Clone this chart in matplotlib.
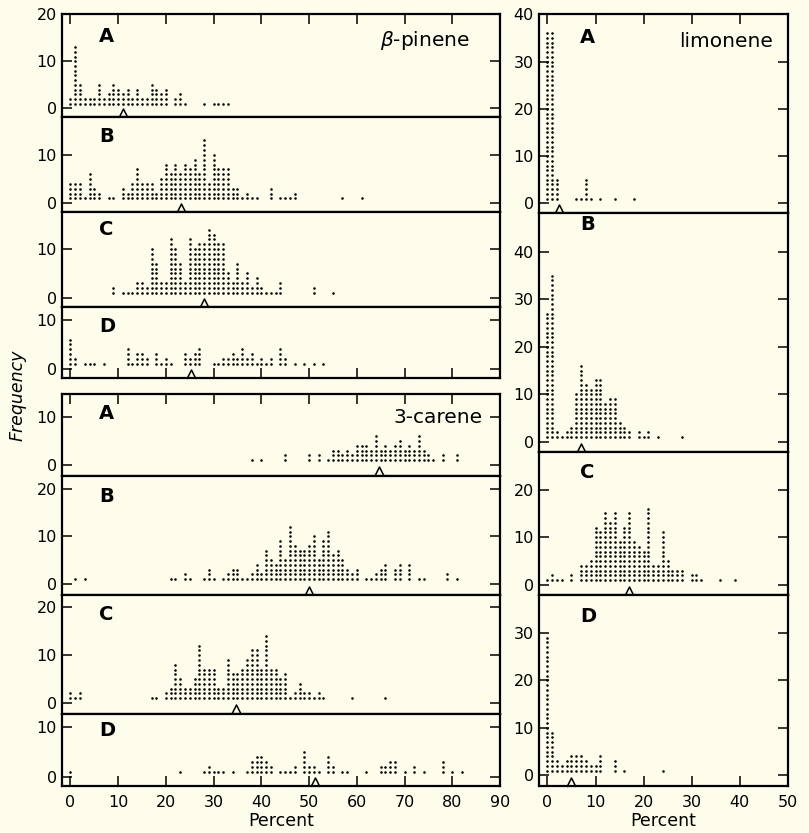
import numpy as np
import matplotlib
matplotlib.use("Agg")
import matplotlib.pyplot as plt
from matplotlib.path import Path

# ---------- DATA (percent value -> number of samples) ----------
# beta-pinene
bp_A_pct = [0, 1, 2, 3, 4, 5, 6, 7, 8, 9, 10, 11, 12, 13, 14, 15, 16, 17, 18, 19, 20, 22, 23, 24, 28, 30, 31, 32, 33]
bp_A_n = [2, 13, 5, 2, 2, 2, 5, 2, 3, 5, 4, 3, 4, 2, 4, 2, 2, 5, 4, 3, 4, 2, 3, 1, 1, 1, 1, 1, 1]
bp_B_pct = [0, 1, 2, 3, 4, 5, 6, 8, 9, 11, 12, 13, 14, 15, 16, 17, 18, 19, 20, 21, 22, 23, 24, 25, 26, 27, 28, 29,
            30, 31, 32, 33, 34, 35, 36, 37, 38, 39, 42, 44, 45, 46, 47, 57, 61]
bp_B_n = [4, 4, 4, 1, 6, 3, 2, 1, 1, 3, 2, 4, 7, 4, 4, 4, 2, 5, 8, 6, 8, 6, 8, 7, 9, 6, 13, 4,
          10, 7, 7, 7, 3, 3, 1, 2, 1, 1, 3, 1, 1, 1, 2, 1, 1]
bp_C_pct = [9, 11, 12, 13, 14, 15, 16, 17, 18, 19, 20, 21, 22, 23, 24, 25, 26, 27, 28, 29, 30, 31, 32, 33, 34, 35,
            36, 37, 38, 39, 40, 41, 42, 43, 44, 51, 55]
bp_C_n = [2, 1, 1, 1, 3, 3, 2, 10, 7, 3, 3, 12, 10, 7, 3, 12, 10, 11, 11, 14, 13, 11, 11, 5, 3, 7,
          3, 5, 2, 4, 2, 1, 1, 1, 3, 2, 1]
bp_D_pct = [0, 1, 3, 4, 5, 7, 12, 13, 14, 15, 16, 18, 19, 20, 21, 24, 25, 26, 27, 30, 31, 32, 33, 34, 35, 36, 37,
            38, 39, 40, 41, 42, 44, 45, 47, 49, 51, 53]
bp_D_n = [6, 2, 1, 1, 1, 1, 4, 1, 3, 3, 2, 3, 1, 2, 1, 3, 2, 3, 4, 1, 1, 2, 2, 3, 2, 4, 2,
          3, 1, 2, 1, 2, 4, 2, 1, 1, 1, 1]
bp_means = [11.1, 23.1, 28.0, 25.2]

# 3-carene
ca_A_pct = [38, 40, 45, 50, 52, 54, 55, 56, 57, 58, 59, 60, 61, 62, 63, 64, 65, 66, 67, 68, 69, 70, 71, 72, 73, 74,
            75, 76, 78, 81]
ca_A_n = [1, 1, 2, 2, 2, 1, 3, 3, 2, 3, 2, 4, 4, 4, 3, 6, 3, 4, 3, 4, 5, 3, 4, 3, 6, 3, 2, 1, 2, 2]
ca_B_pct = [1, 3, 21, 22, 24, 25, 28, 29, 30, 32, 33, 34, 35, 36, 37, 38, 39, 40, 41, 42, 43, 44, 45, 46, 47, 48,
            49, 50, 51, 52, 53, 54, 55, 56, 57, 58, 59, 60, 62, 63, 64, 65, 66, 68, 69, 71, 73, 74, 79, 81]
ca_B_n = [1, 1, 1, 1, 2, 1, 1, 3, 1, 1, 2, 3, 3, 1, 1, 2, 4, 2, 7, 5, 4, 9, 5, 12, 8, 7,
          7, 8, 10, 5, 9, 11, 6, 7, 5, 3, 2, 3, 1, 1, 2, 3, 4, 3, 4, 4, 1, 1, 2, 1]
ca_C_pct = [0, 1, 2, 17, 18, 20, 21, 22, 23, 24, 25, 26, 27, 28, 29, 30, 31, 32, 33, 34, 35, 36, 37, 38, 39, 40,
            41, 42, 43, 44, 45, 46, 47, 48, 49, 50, 51, 52, 53, 59, 66]
ca_C_n = [2, 1, 2, 1, 1, 2, 3, 8, 5, 3, 3, 5, 12, 7, 7, 7, 3, 3, 9, 6, 6, 7, 9, 11, 11, 7,
          14, 7, 7, 5, 6, 1, 2, 4, 2, 2, 1, 2, 1, 1, 1]
ca_D_pct = [0, 23, 28, 29, 30, 31, 32, 34, 37, 38, 39, 40, 41, 42, 44, 45, 46, 47, 49, 50, 51, 52, 54, 55, 57, 58,
            62, 65, 66, 67, 68, 70, 72, 74, 78, 80, 82]
ca_D_n = [1, 1, 1, 2, 1, 1, 1, 1, 1, 3, 4, 4, 3, 2, 1, 1, 1, 2, 5, 2, 2, 1, 4, 2, 1, 1,
          1, 2, 2, 3, 3, 1, 2, 1, 3, 1, 1]
ca_means = [64.6, 49.9, 34.7, 51.2]

# limonene
li_A_pct = [0, 1, 2, 6, 7, 8, 9, 11, 14, 18]
li_A_n = [36, 36, 5, 1, 1, 5, 1, 1, 1, 1]
li_B_pct = [0, 1, 2, 3, 4, 5, 6, 7, 8, 9, 10, 11, 12, 13, 14, 15, 16, 17, 19, 20, 21, 23, 28]
li_B_n = [27, 35, 2, 1, 2, 3, 10, 16, 12, 11, 13, 13, 8, 9, 9, 4, 3, 2, 2, 1, 2, 1, 1]
li_C_pct = [0, 1, 2, 3, 5, 7, 8, 9, 10, 11, 12, 13, 14, 15, 16, 17, 18, 19, 20, 21, 22, 23, 24, 25, 26, 27, 28,
            30, 31, 32, 36, 39]
li_C_n = [1, 2, 1, 1, 2, 4, 4, 5, 12, 11, 15, 13, 15, 9, 12, 15, 9, 8, 7, 16, 4, 4, 11, 5, 3, 3, 3,
          2, 2, 1, 1, 1]
li_D_pct = [0, 1, 2, 3, 4, 5, 6, 7, 8, 9, 10, 11, 14, 16, 24]
li_D_n = [29, 9, 3, 2, 3, 4, 4, 4, 3, 2, 2, 4, 3, 1, 1]
li_means = [2.4, 7.0, 16.9, 4.9]

panel_letters = ["A", "B", "C", "D"]

# ---------- LAYOUT (pixels in an 809 x 833 canvas) ----------
W, H = 809, 833
BG = "#fefcea"
left_x = (62.3, 500.0)
right_x = (539.3, 787.7)
bp_edges = [14, 117.3, 212.3, 307, 378.3]
ca_edges = [394.3, 475.7, 595, 713.5, 786.2]
li_edges = [14, 213.3, 452.3, 595, 786.2]
bp_ylims = [(-1.9, 20.05), (-1.86, 17.8), (-1.93, 17.6), (-1.95, 12.7)]
ca_ylims = [(-2.2, 14.6), (-2.3, 22.7), (-2.2, 22.6), (-1.9, 12.8)]
li_ylims = [(-2.1, 40.05), (-2.2, 48.1), (-2.1, 27.8), (-2.3, 38)]
bp_yticks = [[0, 10, 20], [0, 10], [0, 10], [0, 10]]
ca_yticks = [[0, 10], [0, 10, 20], [0, 10, 20], [0, 10]]
li_yticks = [[0, 10, 20, 30, 40], [0, 10, 20, 30, 40], [0, 10, 20], [0, 10, 20, 30]]
bp_label_off = [13, 10, 8, 10]
ca_label_off = [10, 11, 10, 8]
li_label_off = [14, 2, 11, 12]

plt.rcParams["font.family"] = ["DejaVu Sans"]
fig = plt.figure(figsize=(W / 100, H / 100), dpi=100, facecolor=BG)

# open caret marker for the means
caret = Path([(-1, -1), (0, 1), (1, -1)], [Path.MOVETO, Path.LINETO, Path.LINETO])


def draw_group(xr, edges, ylims, yticks, pcts, counts, means, xmax, xticks, label_x, label_off, bottom_labels):
    axes = []
    for i in range(4):
        top, bot = edges[i], edges[i + 1]
        ax = fig.add_axes([xr[0] / W, 1 - bot / H, (xr[1] - xr[0]) / W, (bot - top) / H])
        ax.set_facecolor(BG)
        ax.set_xlim(-1.7, xmax)
        ax.set_ylim(*ylims[i])

        x = np.repeat(pcts[i], counts[i])
        y = np.concatenate([np.arange(1, k + 1) for k in counts[i]])
        ax.scatter(x, y, s=3.4, color="black", linewidths=0)

        # mean marker sitting on the lower frame
        lo, hi = ylims[i]
        ypx = (bot - top) / (hi - lo)
        ax.plot([means[i]], [lo + 4.3 / ypx], marker=caret, markersize=6.5, fillstyle="none",
                color="black", mew=1.1, clip_on=False)

        ax.set_yticks(yticks[i])
        ax.set_xticks(xticks)
        ax.tick_params(axis="y", direction="in", length=7, width=1.1, left=True, right=True,
                       labelsize=11.5, pad=4)
        ax.tick_params(axis="x", direction="in", length=7, width=1.1, top=(i == 0), bottom=(i == 3),
                       labelbottom=(i == 3 and bottom_labels), labelsize=11.5, pad=6)
        for sp in ax.spines.values():
            sp.set_linewidth(1.6)

        ax.annotate(panel_letters[i], xy=(label_x, 1), xycoords="axes fraction",
                    xytext=(0, -label_off[i] * 0.72), textcoords="offset points",
                    ha="left", va="top", fontsize=14, fontweight="bold")
        axes.append(ax)
    if bottom_labels:
        axes[-1].set_xlabel("Percent", fontsize=12.5, labelpad=2)
    return axes


bp_axes = draw_group(left_x, bp_edges, bp_ylims, bp_yticks,
                     [bp_A_pct, bp_B_pct, bp_C_pct, bp_D_pct], [bp_A_n, bp_B_n, bp_C_n, bp_D_n],
                     bp_means, 90, range(0, 91, 10), 0.084, bp_label_off, False)
ca_axes = draw_group(left_x, ca_edges, ca_ylims, ca_yticks,
                     [ca_A_pct, ca_B_pct, ca_C_pct, ca_D_pct], [ca_A_n, ca_B_n, ca_C_n, ca_D_n],
                     ca_means, 90, range(0, 91, 10), 0.084, ca_label_off, True)
li_axes = draw_group(right_x, li_edges, li_ylims, li_yticks,
                     [li_A_pct, li_B_pct, li_C_pct, li_D_pct], [li_A_n, li_B_n, li_C_n, li_D_n],
                     li_means, 50, range(0, 51, 10), 0.164, li_label_off, True)

# compound names
bp_axes[0].text(0.93, 0.74, "$\\beta$-pinene", transform=bp_axes[0].transAxes,
                ha="right", va="center", fontsize=14.5)
ca_axes[0].text(0.96, 0.72, "3-carene", transform=ca_axes[0].transAxes,
                ha="right", va="center", fontsize=14.5)
li_axes[0].text(0.94, 0.86, "limonene", transform=li_axes[0].transAxes,
                ha="right", va="center", fontsize=14.5)

fig.text(18 / W, 1 - 395 / H, "Frequency", rotation=90, ha="center", va="center",
         fontsize=12.5, style="italic")

fig.savefig("out.png", dpi=100, facecolor=BG)
